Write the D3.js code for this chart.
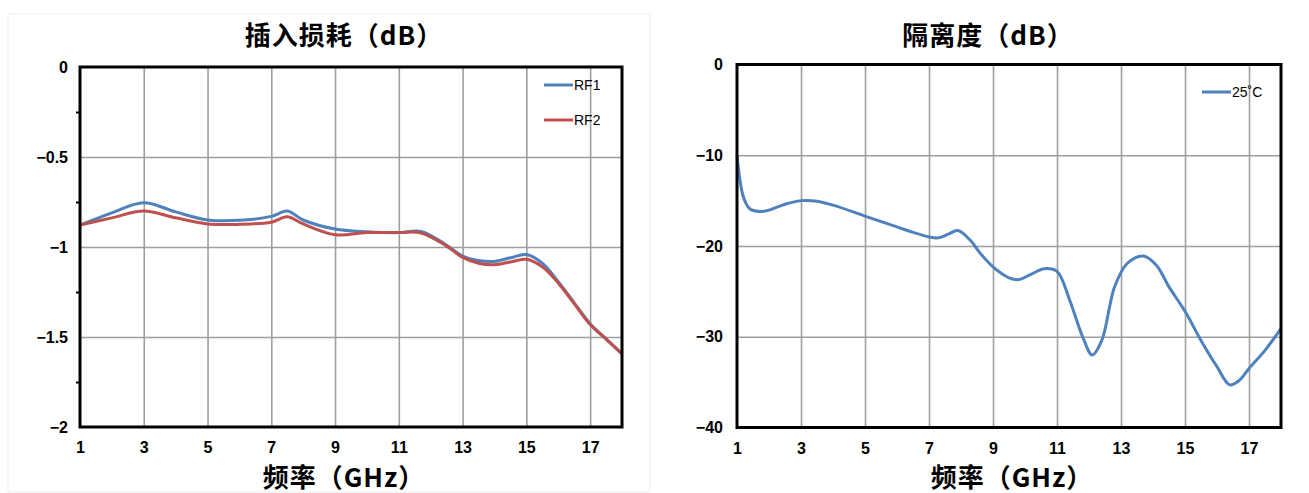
<!DOCTYPE html>
<html><head><meta charset="utf-8">
<script src="https://cdn.jsdelivr.net/npm/d3@7"></script>
<style>
html,body{margin:0;padding:0;background:#fff;}
svg{display:block;}
.tick text{font-family:"Liberation Sans Narrow","Arial Narrow","Liberation Sans",Arial,sans-serif;font-weight:bold;font-size:16px;fill:#000;}
.title,.xlabel{font-family:"Noto Sans CJK SC",sans-serif;font-weight:bold;font-size:26px;letter-spacing:1px;fill:#000;}
.legend text{font-family:"Liberation Sans Narrow","Arial Narrow","Liberation Sans",Arial,sans-serif;font-size:14px;fill:#000;}
</style></head>
<body><svg id="c" width="1309" height="493"></svg>
<script>
// ---------- data ----------
const xTicks = [1, 3, 5, 7, 9, 11, 13, 15, 17];

const ilTitle = "插入损耗（dB）";
const ilYTicks = [0, -0.5, -1, -1.5, -2];
const ilFreq = [1, 2, 3, 4, 5, 6, 7, 7.5, 8, 9, 10, 11, 11.7, 12.5, 13, 13.5, 14, 14.5, 15, 15.5, 16, 16.5, 17, 17.5, 18];
const rf1 = [-0.878, -0.81, -0.754, -0.805, -0.850, -0.852, -0.830, -0.800, -0.850, -0.900, -0.915, -0.920, -0.913, -0.990, -1.050, -1.075, -1.080, -1.060, -1.042, -1.090, -1.193, -1.310, -1.426, -1.510, -1.594];
const rf2 = [-0.878, -0.838, -0.800, -0.838, -0.872, -0.874, -0.862, -0.832, -0.872, -0.932, -0.920, -0.920, -0.922, -0.995, -1.058, -1.090, -1.098, -1.083, -1.068, -1.110, -1.200, -1.315, -1.430, -1.512, -1.594];
const ilSeries = ["RF1", "RF2"];

const isoTitle = "隔离度（dB）";
const isoYTicks = [0, -10, -20, -30, -40];
const isoFreq = [1, 1.2, 1.4, 1.7, 2, 2.5, 3, 3.5, 4, 5, 6, 6.5, 7, 7.3, 7.6, 7.9, 8.3, 8.6, 9, 9.5, 9.8, 10.2, 10.6, 11, 11.4, 11.8, 12.1, 12.4, 12.8, 13.2, 13.7, 14.1, 14.5, 15, 15.5, 16, 16.4, 16.7, 17, 17.5, 18];
const iso25 = [-10, -14.6, -15.9, -16.2, -16.05, -15.4, -15.0, -15.06, -15.5, -16.7, -17.9, -18.5, -19.0, -19.1, -18.7, -18.3, -19.4, -20.8, -22.3, -23.5, -23.7, -23.1, -22.5, -22.8, -26.0, -30.0, -32.0, -30.4, -24.5, -21.9, -21.1, -22.1, -24.5, -27.2, -30.4, -33.3, -35.3, -34.8, -33.5, -31.5, -29.1];
const isoSeries = ["25˚C"];

const xLabel = "频率（GHz）";

// ---------- drawing ----------
const svg = d3.select("#c");
const fmt = v => (v < 0 ? "\u2212" : "") + Math.abs(v);

function chart(o) {
  const g = svg.append("g");
  const x = d3.scaleLinear().domain([1, 18]).range([o.x0, o.x1]);
  const y = d3.scaleLinear().domain(o.yDomain).range([o.y0, o.y1]);
  const w = o.x1 - o.x0, h = o.y0 - o.y1;

  if (o.frame) g.append("rect").attr("x", o.frame[0]).attr("y", o.frame[1]).attr("width", o.frame[2]).attr("height", o.frame[3])
      .attr("fill", "none").attr("stroke", "#eeeeee").attr("stroke-width", 1);

  // grid
  g.append("g").attr("transform", `translate(0,${o.y1})`)
    .call(d3.axisBottom(x).tickValues(xTicks.slice(1)).tickSize(h).tickFormat(""))
    .call(s => s.select(".domain").remove())
    .call(s => s.selectAll("line").attr("stroke", "#9e9e9e").attr("stroke-width", 1.6));
  g.append("g").attr("transform", `translate(${o.x0},0)`)
    .call(d3.axisRight(y).tickValues(o.yTicks.slice(1, -1)).tickSize(w).tickFormat(""))
    .call(s => s.select(".domain").remove())
    .call(s => s.selectAll("line").attr("stroke", "#9e9e9e").attr("stroke-width", 1.6));

  // minor ticks
  if (o.minor) {
    g.append("g").attr("transform", `translate(${o.x0},0)`)
      .call(d3.axisLeft(y).tickValues(o.minor).tickSize(4).tickFormat(""))
      .call(s => s.select(".domain").remove())
      .call(s => s.selectAll("line").attr("stroke", "#000").attr("stroke-width", 2));
  }

  // series
  const line = d3.line().curve(d3.curveCatmullRom.alpha(0.5)).x(d => x(d[0])).y(d => y(d[1]));
  o.series.forEach(s => {
    g.append("path").datum(o.freq.map((f, i) => [f, s.values[i]]))
      .attr("d", line).attr("fill", "none").attr("stroke", s.color).attr("stroke-width", 3)
      .attr("stroke-linejoin", "round");
  });

  // frame
  g.append("rect").attr("x", o.x0).attr("y", o.y1).attr("width", w).attr("height", h)
    .attr("fill", "none").attr("stroke", "#000").attr("stroke-width", 3);

  // axes labels
  g.append("g").attr("transform", `translate(0,${o.y0})`)
    .call(d3.axisBottom(x).tickValues(xTicks).tickSize(0).tickPadding(15))
    .call(s => s.select(".domain").remove());
  g.append("g").attr("transform", `translate(${o.x0},0)`)
    .call(d3.axisLeft(y).tickValues(o.yTicks).tickSize(0).tickPadding(o.yPad).tickFormat(fmt))
    .call(s => s.select(".domain").remove());

  g.append("text").attr("class", "title").attr("x", o.titleX).attr("y", 45).attr("text-anchor", "middle").text(o.title);
  g.append("text").attr("class", "xlabel").attr("x", o.xlabX).attr("y", 487).attr("text-anchor", "middle").text(xLabel);

  // legend
  const lg = g.append("g").attr("class", "legend");
  o.series.forEach((s, i) => {
    const ly = o.legY + i * o.legStep;
    lg.append("line").attr("x1", o.legX).attr("x2", o.legX + 29).attr("y1", ly).attr("y2", ly)
      .attr("stroke", s.color).attr("stroke-width", 3);
    lg.append("text").attr("x", o.legX + 30).attr("y", ly).attr("dy", "0.35em").text(s.name);
  });
}

chart({
  x0: 80, x1: 622, y0: 427, y1: 67, yDomain: [-2, 0], yTicks: ilYTicks, yPad: 12,
  minor: [-0.25, -0.75, -1.25, -1.75], frame: [8, 14, 642, 478],
  freq: ilFreq, title: ilTitle, titleX: 344, xlabX: 344,
  series: [{name: ilSeries[0], values: rf1, color: "#4F81BD"}, {name: ilSeries[1], values: rf2, color: "#C0504D"}],
  legX: 544, legY: 85, legStep: 35
});
chart({
  x0: 737, x1: 1281, y0: 427.5, y1: 64.5, yDomain: [-40, 0], yTicks: isoYTicks, yPad: 14,
  minor: null, frame: null,
  freq: isoFreq, title: isoTitle, titleX: 988, xlabX: 1012,
  series: [{name: isoSeries[0], values: iso25, color: "#4F81BD"}],
  legX: 1202, legY: 92, legStep: 0
});
</script></body></html>
